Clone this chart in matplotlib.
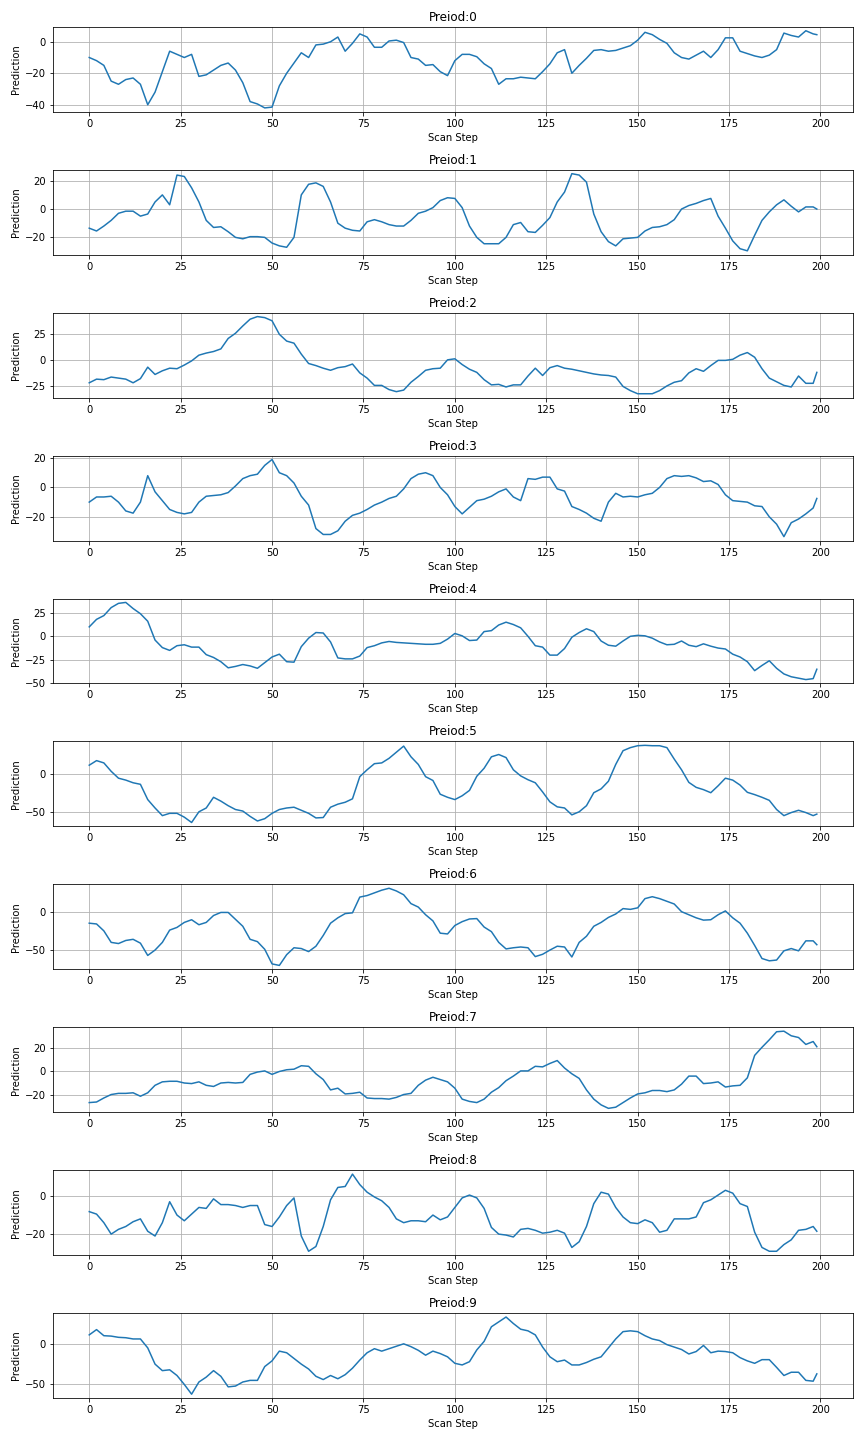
import matplotlib
matplotlib.use("Agg")
import matplotlib.pyplot as plt

# scan steps (every second step plus the last one)
steps = list(range(0, 200, 2)) + [199]

period_0 = [-10, -12, -15, -25, -27, -24, -23, -27, -40, -32,
            -19, -6, -8, -10, -8, -22, -21, -18, -15, -13.5,
            -18, -26, -38, -39.5, -42, -41.5, -28, -20, -13.5, -7,
            -10, -2, -1.5, 0, 3, -6, -1, 5, 3, -3.5,
            -3.5, 0.5, 1, -0.5, -10, -11, -15, -14.5, -19, -21.5,
            -12, -8, -8, -9.5, -14, -17, -27, -23.5, -23.5, -22.5,
            -23, -23.5, -19, -14, -7, -5, -20, -15, -10.5, -5.5,
            -5, -6, -5.5, -4, -2.5, 1, 6, 4.5, 1.5, -1,
            -7, -10, -11, -8.5, -6, -10, -5, 2.5, 2.5, -6,
            -7.5, -9, -10, -8.5, -5, 5.5, 4, 3, 7, 5,
            4.5]

period_1 = [-13.5, -15.5, -12, -8, -3, -1.5, -1.5, -5, -3.5, 5,
            10, 3, 24, 23, 15, 5, -8, -13, -12.5, -16,
            -20, -21, -19.5, -19.5, -20, -24, -26, -27, -20, 10,
            17.5, 18.5, 16, 5, -10, -13.5, -15, -15.5, -9, -7.5,
            -9, -11, -12, -12, -8, -3, -1.5, 1, 6, 8,
            7.5, 1, -12, -20, -24.5, -24.5, -24.5, -20, -11, -9.5,
            -16, -16.5, -11.5, -6, 5, 12, 25, 24, 19, -3.5,
            -16, -23, -26, -21, -20.5, -20, -15.5, -13, -12.5, -11,
            -7.5, 0, 2.5, 4, 6, 7.5, -5, -13.5, -22.5, -28,
            -29.5, -18.5, -8, -2, 3, 6.5, 2, -2, 1.5, 1.5,
            0]

period_2 = [-21.5, -18, -18.5, -16, -17, -18, -21.5, -17.5, -6.5, -13.5,
            -10, -7.5, -8, -4.5, -0.5, 5, 7, 8.5, 11, 21,
            26, 33, 39.5, 42, 41, 38, 25, 18.5, 16.5, 6,
            -3, -5, -7.5, -9.5, -7, -6, -3.5, -12, -17, -24,
            -24, -28, -30, -28.5, -21, -15.5, -9.5, -8, -7.5, 0.5,
            1.5, -4, -8.5, -11.5, -18.5, -23.5, -23, -25.5, -23.5, -23.5,
            -15, -7.5, -14.5, -7, -5, -7.5, -8.5, -10, -11.5, -13,
            -14, -14.5, -16, -25, -29, -32, -32, -32, -29, -24.5,
            -21, -19.5, -12, -8, -10.5, -5, 0, 0, 1, 5,
            7.5, 3, -8, -17, -20.5, -24, -25.5, -15, -22, -22,
            -11.5]

period_3 = [-10, -6.5, -6.5, -6, -10, -16, -17.5, -10, 8, -3,
            -9, -15, -17, -18, -17, -10, -6, -5.5, -5, -3.5,
            1, 6, 8, 9, 15, 19, 10, 8, 3, -6,
            -12, -28, -32, -32, -29.5, -23, -19, -17.5, -15, -12,
            -10, -7.5, -6, -1, 6, 9, 10, 8, 0, -5,
            -13, -18, -13.5, -9, -8, -6, -3, -1, -6.5, -9,
            6, 5.5, 7, 7, -1, -2.5, -13, -15, -17.5, -21,
            -23, -10, -4, -6.5, -6, -6.5, -5, -4, 0, 6,
            8, 7.5, 8, 6.5, 4, 4.5, 2, -5, -9, -9.5,
            -10, -12.5, -13, -20, -25, -33.5, -24, -21.5, -18, -14,
            -7.5]

period_4 = [10, 18, 22, 30.5, 35, 36, 29.5, 24, 16, -4,
            -12, -15, -10, -9, -11.5, -11.5, -19.5, -22.5, -27, -33.5,
            -32, -30, -31.5, -34, -28, -22, -19, -27, -27.5, -11,
            -2, 4, 3.5, -6, -23, -24, -24, -21, -12, -10,
            -7, -5.5, -6.5, -7, -7.5, -8, -8.5, -8.5, -7.5, -3,
            3, 0.5, -4.5, -4, 5, 6, 12, 15, 12.5, 9,
            0, -10, -11.5, -20, -20, -13, -1, 4, 8, 5,
            -5, -9.5, -10.5, -5, 0, 1, 0.5, -2, -6, -9,
            -8.5, -5, -9.5, -11, -8, -10.5, -12.5, -13.5, -19, -22,
            -27, -36.5, -31, -26, -34, -40, -43, -44.5, -46, -45,
            -35]

period_5 = [11, 17, 14, 3, -6, -8.5, -12, -14, -34, -45,
            -55, -52, -52, -57, -64, -50, -45, -31, -36, -42,
            -47, -49, -56, -62, -59, -52, -47, -45, -44, -48,
            -52, -58, -57.5, -44, -40, -37.5, -33, -4, 5, 13,
            14, 20, 28, 36, 22, 12, -4, -9, -27, -31,
            -34, -29, -22, -3.5, 7, 22, 25, 21, 5, -3,
            -8, -12, -24, -37, -43.5, -45, -54, -50, -42, -25,
            -20, -10, 12, 30, 34, 36.5, 37, 36.5, 36.5, 34,
            19, 5, -11.5, -18, -21, -25, -16, -6, -8.5, -15,
            -24.5, -27.5, -31, -35, -47, -55, -51, -48, -51, -55,
            -53]

period_6 = [-15, -16, -25, -40, -41.5, -37.5, -36, -41, -57, -50,
            -40, -24, -20.5, -14, -10.5, -17, -14, -5, -1, -1,
            -10, -19, -36, -39, -49, -68, -70, -56, -47, -48,
            -52, -45, -31, -15, -8, -2.5, -1.5, 19, 21, 24.5,
            28, 30.5, 27, 22, 10.5, 6, -4, -12, -28, -29,
            -18, -13, -9.5, -9, -20, -26, -40, -48.5, -47, -46,
            -47, -58.5, -55.5, -50, -45, -46, -59, -40, -32, -19,
            -14, -7.5, -3, 4, 3, 5, 17, 19.5, 17, 13.5,
            10, 0, -4, -8, -11, -10.5, -4, 1, -8, -15,
            -28, -44, -61, -64, -63, -51, -48, -51, -38, -38,
            -43]

period_7 = [-27, -26.5, -23, -20, -19, -19, -18.5, -21.5, -18.5, -12,
            -9, -8.5, -8.5, -10, -10.5, -9, -12, -13, -10, -9.5,
            -10, -9.5, -2.5, -0.5, 0.5, -2.5, 0, 1.5, 2, 5,
            4.5, -2, -7, -16, -14.5, -19.5, -19, -18, -23, -23.5,
            -23.5, -24, -22.5, -20, -19, -12, -7.5, -5, -7, -9,
            -14.5, -24, -26, -27, -24, -18, -14, -8, -4, 0.5,
            0.5, 4.5, 4, 7, 9.5, 3, -2, -6, -16, -24,
            -29, -32, -31, -27, -23, -19.5, -18.5, -16.5, -16.5, -17.5,
            -16, -11, -4, -4, -10.5, -10, -9, -13.5, -12.5, -12,
            -5.5, 14, 21, 27.5, 34.5, 35, 31, 29.5, 23.5, 26,
            21.5]

period_8 = [-8.2, -9.5, -14, -20, -17.5, -16, -13.5, -12, -18.5, -21,
            -14, -3, -10, -13, -9.5, -6, -6.5, -1.5, -4.5, -4.5,
            -5, -6, -5, -5, -15, -16, -11, -5, -1, -21,
            -29, -26.5, -16, -2, 4.5, 5, 11.5, 6, 2, -0.5,
            -2.5, -6, -12, -14, -13, -13, -13.5, -10, -12.5, -11,
            -6, -1, 0.5, -1, -6.5, -16.5, -20, -20.5, -21.5, -17.5,
            -17, -18, -19.5, -19, -18, -19.5, -27, -24, -16, -4,
            2, 1, -6, -11, -14, -14.5, -12.5, -14, -19, -18,
            -12, -12, -12, -11, -3.5, -2, 0.5, 3, 1.5, -4,
            -5.5, -19, -27, -29, -29, -25.5, -23, -18, -17.5, -16,
            -18.5]

period_9 = [11, 17.5, 10, 9.5, 8, 7.5, 6, 6, -5, -25,
            -33, -32, -39, -50, -62, -47, -41, -33, -40, -53,
            -52, -47, -45, -45, -28, -21, -9, -11, -18, -25,
            -31, -40, -44, -39, -43, -38, -30, -20, -11, -6,
            -9, -6, -3, 0, -3.5, -8, -14, -9, -12, -16,
            -24, -26, -22, -7.5, 3, 21, 27, 33, 25, 18,
            16, 11, -4, -16, -22, -20, -26, -26, -23, -19,
            -16, -5, 6, 15, 16, 15, 10, 6, 4, -1,
            -4, -7, -12.5, -9.5, -2, -11, -9, -9.5, -11, -17,
            -21, -24, -19.5, -19.5, -29, -39, -35, -35, -45, -46,
            -37]

periods = [period_0, period_1, period_2, period_3, period_4,
           period_5, period_6, period_7, period_8, period_9]

fig, axes = plt.subplots(len(periods), 1, figsize=(12, 20))
for i, (ax, pred) in enumerate(zip(axes, periods)):
    ax.plot(steps, pred, color="#1f77b4", linewidth=1.5)
    ax.set_title("Preiod:{}".format(i))
    ax.set_xlabel("Scan Step")
    ax.set_ylabel("Prediction")
    ax.grid(True)

plt.tight_layout()
fig.savefig("out.png", dpi=72)
